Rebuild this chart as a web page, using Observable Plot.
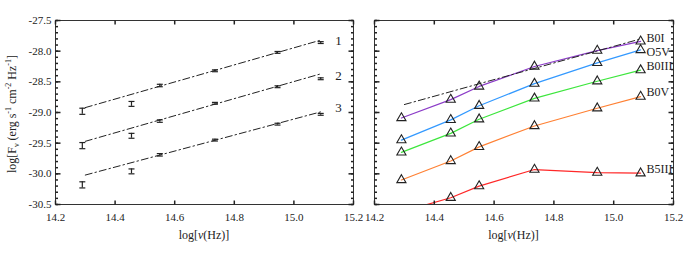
<!DOCTYPE html>
<html><head><meta charset="utf-8">
<script src="https://cdn.jsdelivr.net/npm/d3@7"></script>
<script src="https://cdn.jsdelivr.net/npm/@observablehq/plot@0.6"></script>
<style>
body{margin:0;background:#fff}
#wrap{display:flex;width:692px;height:260px}
#wrap svg{overflow:visible}
</style>
</head><body><div id="wrap"></div>
<script>
// ---- data ----
const freqs = [14.29, 14.455, 14.55, 14.735, 14.945, 15.09];
// left panel: observed fluxes (three epochs/objects)
const obs1 = [-28.98, -28.86, -28.56, -28.32, -28.02, -27.86];
const obs2 = [-29.54, -29.38, -29.14, -28.85, -28.58, -28.45];
const obs3 = [-30.18, -29.96, -29.69, -29.45, -29.19, -29.03];
const errs = [0.05, 0.04, 0.02, 0.015, 0.015, 0.015];
const obsNames = ["1", "2", "3"];
const labelX = 15.15;
const obsLabelY = [-27.83, -28.40, -28.92];
// fitted dash-dot lines
const fitX = [14.30, 15.09];
const fit1 = [-28.92, -27.82];
const fit2 = [-29.47, -28.37];
const fit3 = [-30.02, -28.99];
// right panel: model spectral types
const typeNames = ["B0I", "O5V", "B0III", "B0V", "B5III"];
const typeColors = ["#8c3cc8", "#3399ff", "#3de63d", "#ff8033", "#ff2828"];
const B0I   = [-29.09, -28.79, -28.575, -28.25, -27.99, -27.84];
const O5V   = [-29.45, -29.12, -28.89, -28.53, -28.19, -27.98];
const B0III = [-29.65, -29.34, -29.11, -28.77, -28.49, -28.31];
const B0V   = [-30.10, -29.79, -29.56, -29.22, -28.93, -28.74];
const B5III = [-30.62, -30.39, -30.20, -29.93, -29.98, -29.99];
const typeLabelY = [-27.78, -28.01, -28.25, -28.67, -29.93];
const fitR  = [-28.87, -27.80];
// axes
const xDomain = [14.2, 15.2];
const yDomain = [-30.5, -27.5];
const xTicks = [14.2, 14.4, 14.6, 14.8, 15.0, 15.2];
const yTicks = [-30.5, -30.0, -29.5, -29.0, -28.5, -28.0, -27.5];
const yMinor = d3.range(-30.5, -27.45, 0.1).map(v => +v.toFixed(1));

// ---- tables ----
const obsSeries = [obs1, obs2, obs3];
const obsData = obsSeries.flatMap((s, i) => s.map((v, j) => ({x: freqs[j], y: v, e: errs[j], s: obsNames[i]})));
const fitData = [fit1, fit2, fit3].flatMap((s, i) => s.map((v, j) => ({x: fitX[j], y: v, s: obsNames[i]})));
const obsLabels = obsNames.map((n, i) => ({x: labelX, y: obsLabelY[i], t: n}));
const typeSeries = [B0I, O5V, B0III, B0V, B5III];
const typeData = typeSeries.flatMap((s, i) => s.map((v, j) => ({x: freqs[j], y: v, s: typeNames[i]})));
const typeLabels = typeNames.map((n, i) => ({x: freqs[freqs.length - 1], y: typeLabelY[i], t: n}));
const fitRData = fitX.map((x, j) => ({x, y: fitR[j]}));

// ---- tick symbols ----
const tickSym = (dx, dy) => ({draw(ctx) { ctx.moveTo(0, 0); ctx.lineTo(dx, dy); }});
const capSym = {draw(ctx) { ctx.moveTo(-3, 0); ctx.lineTo(3, 0); }};
const INK = "#222";

function frameTicks(showYLabels) {
  const m = [
    Plot.frame({stroke: "#333"}),
    Plot.dot(xTicks, {x: d => d, y: () => yDomain[0], symbol: tickSym(0, -4), stroke: INK, r: 1}),
    Plot.dot(xTicks, {x: d => d, y: () => yDomain[1], symbol: tickSym(0, 4), stroke: INK, r: 1}),
    Plot.dot(yMinor, {y: d => d, x: () => xDomain[0], symbol: tickSym(2.5, 0), stroke: INK, r: 1}),
    Plot.dot(yMinor, {y: d => d, x: () => xDomain[1], symbol: tickSym(-2.5, 0), stroke: INK, r: 1}),
    Plot.dot(yTicks, {y: d => d, x: () => xDomain[0], symbol: tickSym(5, 0), stroke: INK, r: 1}),
    Plot.dot(yTicks, {y: d => d, x: () => xDomain[1], symbol: tickSym(-5, 0), stroke: INK, r: 1}),
    Plot.axisX({ticks: xTicks, tickSize: 0, tickPadding: 9, tickFormat: d => d.toFixed(1), label: null, fill: INK, fontSize: 11})
  ];
  if (showYLabels) m.push(Plot.axisY({ticks: yTicks, tickSize: 0, tickPadding: 4, tickFormat: d => d.toFixed(1), label: null, fill: INK, fontSize: 11}));
  return m;
}

const common = {
  height: 260, marginTop: 20, marginBottom: 56,
  x: {domain: xDomain},
  style: {fontFamily: "Liberation Serif", fontSize: "12px", color: INK, background: "white", overflow: "visible"}
};

const left = Plot.plot({
  ...common, width: 364, marginLeft: 55, marginRight: 11,
  y: {domain: yDomain},
  marks: [
    Plot.line(fitData, {x: "x", y: "y", z: "s", stroke: INK, strokeWidth: 1, strokeDasharray: "7,3,1.5,3"}),
    Plot.ruleX(obsData, {x: "x", y1: d => d.y - d.e, y2: d => d.y + d.e, stroke: INK, strokeWidth: 1.2}),
    Plot.dot(obsData, {x: "x", y: d => d.y - d.e, symbol: capSym, stroke: INK, strokeWidth: 1.2, r: 1}),
    Plot.dot(obsData, {x: "x", y: d => d.y + d.e, symbol: capSym, stroke: INK, strokeWidth: 1.2, r: 1}),
    Plot.text(obsLabels, {x: "x", y: "y", text: "t", fontSize: 13, fill: INK, textAnchor: "middle"}),
    ...frameTicks(true)
  ]
});

const right = Plot.plot({
  ...common, width: 328, marginLeft: 10, marginRight: 19,
  y: {domain: yDomain, axis: null},
  color: {domain: typeNames, range: typeColors},
  marks: [
    Plot.line(typeData, {x: "x", y: "y", z: "s", stroke: "s", strokeWidth: 1.2, clip: true}),
    Plot.line(fitRData, {x: "x", y: "y", stroke: INK, strokeWidth: 1, strokeDasharray: "7,3,1.5,3"}),
    Plot.dot(typeData, {x: "x", y: "y", symbol: "triangle", r: 3.4, stroke: INK, strokeWidth: 1.1, fill: "none", clip: true}),
    Plot.text(typeLabels, {x: "x", y: "y", text: "t", textAnchor: "start", dx: 6, fontSize: 12, fill: INK}),
    ...frameTicks(false)
  ]
});

document.getElementById("wrap").append(left, right);

// axis titles with italic nu / sub- and superscripts
function xTitle(svg, cx) {
  const t = d3.select(svg).append("text")
    .attr("x", cx).attr("y", 239).attr("text-anchor", "middle")
    .attr("font-family", "Liberation Serif").attr("font-size", 12).attr("fill", INK);
  t.append("tspan").text("log[");
  t.append("tspan").attr("font-style", "italic").text("\u03bd");
  t.append("tspan").text("(Hz)]");
}
xTitle(left, 204);
xTitle(right, 149.5);

const yt = d3.select(left).append("text")
  .attr("transform", "translate(16,114) rotate(-90)").attr("text-anchor", "middle")
  .attr("font-family", "Liberation Serif").attr("font-size", 12).attr("fill", INK);
yt.append("tspan").text("log[F");
yt.append("tspan").attr("font-size", 8).attr("dy", 3).text("\u03bd");
yt.append("tspan").attr("dy", -3).text(" (erg s");
yt.append("tspan").attr("font-size", 8).attr("dy", -5).text("-1");
yt.append("tspan").attr("dy", 5).text(" cm");
yt.append("tspan").attr("font-size", 8).attr("dy", -5).text("-2");
yt.append("tspan").attr("dy", 5).text(" Hz");
yt.append("tspan").attr("font-size", 8).attr("dy", -5).text("-1");
yt.append("tspan").attr("dy", 5).text("]");
</script>
</body></html>
